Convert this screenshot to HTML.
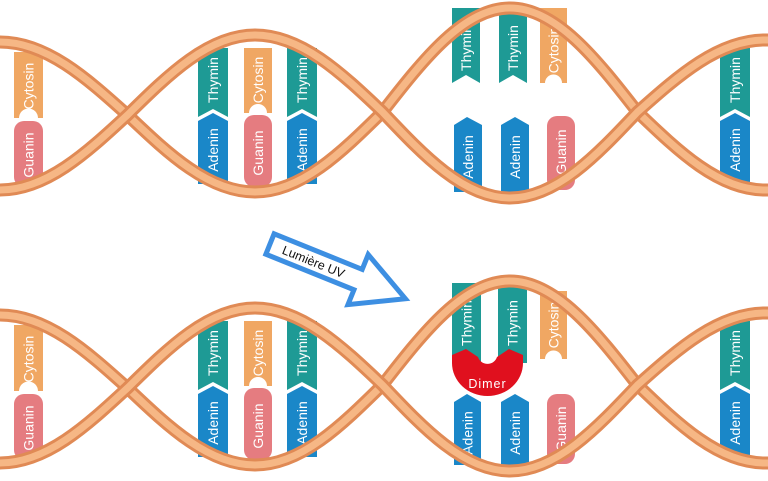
<!DOCTYPE html>
<html><head><meta charset="utf-8"><style>
html,body{margin:0;padding:0;background:#fff;}
svg{display:block;}
text{font-family:"Liberation Sans",sans-serif;}
.b text{fill:#fff;font-size:14px;text-anchor:middle;}
</style></head><body>
<svg width="768" height="481" viewBox="0 0 768 481" xmlns="http://www.w3.org/2000/svg">
<defs>
<path id="s1" d="M-10 42 L0 42 C46.1 42 85.9 77.6 127.5 115 C169.1 154.5 208.9 192 255 192 C301.1 192 340.9 153 382.5 112 C424.1 58.6 463.9 8 510 8 C556.1 8 595.9 58.6 637.5 112 C679.1 152 718.9 190 765 190 L790 190" fill="none"/>
<path id="s2" d="M-10 190 L0 190 C46.1 190 85.9 153.5 127.5 115 C169.1 74 208.9 35 255 35 C301.1 35 340.9 72.5 382.5 112 C424.1 156 463.9 198 510 198 C556.1 198 595.9 156 637.5 112 C679.1 75 718.9 40 765 40 L790 40" fill="none"/>
<g id="strands">
  <use href="#s1" stroke="#e08a55" stroke-width="13"/>
  <use href="#s1" stroke="#f6b785" stroke-width="7"/>
  <use href="#s2" stroke="#e08a55" stroke-width="13"/>
  <use href="#s2" stroke="#f6b785" stroke-width="7"/>
</g>
</defs>

<!-- TOP HELIX -->
<g class="b">
  <path d="M14 52 H43 V118 H38 A9.5 9.5 0 0 0 19 118 H14 Z" fill="#f0a763"/>
  <text transform="translate(28.5,86) rotate(-90)" dy="5">Cytosin</text>
  <rect x="14" y="121" width="29" height="66" rx="10" fill="#e57c80"/>
  <text transform="translate(28.5,155) rotate(-90)" dy="5">Guanin</text>
  <path d="M198 48 H228 V117 L213 109 L198 117 Z" fill="#1e9a95"/>
  <text transform="translate(213,80) rotate(-90)" dy="5">Thymin</text>
  <path d="M198 121 L213 113 L228 121 V184 H198 Z" fill="#1a87c8"/>
  <text transform="translate(213,150) rotate(-90)" dy="5">Adenin</text>
  <path d="M244 48 H272 V113 H267 A9 9 0 0 0 249 113 H244 Z" fill="#f0a763"/>
  <text transform="translate(258,80) rotate(-90)" dy="5">Cytosin</text>
  <rect x="244" y="115" width="28" height="72" rx="10" fill="#e57c80"/>
  <text transform="translate(258,153) rotate(-90)" dy="5">Guanin</text>
  <path d="M287 48 H317 V117 L302 109 L287 117 Z" fill="#1e9a95"/>
  <text transform="translate(302,80) rotate(-90)" dy="5">Thymin</text>
  <path d="M287 121 L302 113 L317 121 V184 H287 Z" fill="#1a87c8"/>
  <text transform="translate(302,150) rotate(-90)" dy="5">Adenin</text>
  <path d="M452 8 H480 V83 L466 75 L452 83 Z" fill="#1e9a95"/>
  <text transform="translate(466,48) rotate(-90)" dy="5">Thymin</text>
  <path d="M499 8 H527 V83 L513 75 L499 83 Z" fill="#1e9a95"/>
  <text transform="translate(513,48) rotate(-90)" dy="5">Thymin</text>
  <path d="M540 8 H567 V83 H562 A8.5 8.5 0 0 0 545 83 H540 Z" fill="#f0a763"/>
  <text transform="translate(553.5,50) rotate(-90)" dy="5">Cytosin</text>
  <path d="M454 125 L467 117 L482 125 V192 H454 Z" fill="#1a87c8"/>
  <text transform="translate(468,157) rotate(-90)" dy="5">Adenin</text>
  <path d="M501 125 L515 117 L529 125 V192 H501 Z" fill="#1a87c8"/>
  <text transform="translate(515,157) rotate(-90)" dy="5">Adenin</text>
  <rect x="547" y="116" width="28" height="74" rx="10" fill="#e57c80"/>
  <text transform="translate(561,152) rotate(-90)" dy="5">Guanin</text>
  <path d="M720 48 H750 V117 L735 109 L720 117 Z" fill="#1e9a95"/>
  <text transform="translate(735,80) rotate(-90)" dy="5">Thymin</text>
  <path d="M720 121 L735 113 L750 121 V184 H720 Z" fill="#1a87c8"/>
  <text transform="translate(735,150) rotate(-90)" dy="5">Adenin</text>
</g>
<use href="#strands"/>

<!-- BOTTOM HELIX -->
<g transform="translate(0,273)">
<g class="b">
  <path d="M14 52 H43 V118 H38 A9.5 9.5 0 0 0 19 118 H14 Z" fill="#f0a763"/>
  <text transform="translate(28.5,86) rotate(-90)" dy="5">Cytosin</text>
  <rect x="14" y="121" width="29" height="66" rx="10" fill="#e57c80"/>
  <text transform="translate(28.5,155) rotate(-90)" dy="5">Guanin</text>
  <path d="M198 48 H228 V117 L213 109 L198 117 Z" fill="#1e9a95"/>
  <text transform="translate(213,80) rotate(-90)" dy="5">Thymin</text>
  <path d="M198 121 L213 113 L228 121 V184 H198 Z" fill="#1a87c8"/>
  <text transform="translate(213,150) rotate(-90)" dy="5">Adenin</text>
  <path d="M244 48 H272 V113 H267 A9 9 0 0 0 249 113 H244 Z" fill="#f0a763"/>
  <text transform="translate(258,80) rotate(-90)" dy="5">Cytosin</text>
  <rect x="244" y="115" width="28" height="72" rx="10" fill="#e57c80"/>
  <text transform="translate(258,153) rotate(-90)" dy="5">Guanin</text>
  <path d="M287 48 H317 V117 L302 109 L287 117 Z" fill="#1e9a95"/>
  <text transform="translate(302,80) rotate(-90)" dy="5">Thymin</text>
  <path d="M287 121 L302 113 L317 121 V184 H287 Z" fill="#1a87c8"/>
  <text transform="translate(302,150) rotate(-90)" dy="5">Adenin</text>
  <path d="M452 10 H481 V90 H452 Z" fill="#1e9a95"/>
  <text transform="translate(466.5,50) rotate(-90)" dy="5">Thymin</text>
  <path d="M498 10 H527 V90 H498 Z" fill="#1e9a95"/>
  <text transform="translate(512.5,50) rotate(-90)" dy="5">Thymin</text>
  <path d="M452 82 L466 76 L478 84 A10 10 0 0 0 497 84 L509 76 L523 82 V90 A35.5 33 0 0 1 452 90 Z" fill="#e0101e"/>
  <text x="487.5" y="115" style="font-size:12.5px;letter-spacing:1px">Dimer</text>
  <path d="M540 18 H567 V86 H562 A8.5 8.5 0 0 0 545 86 H540 Z" fill="#f0a763"/>
  <text transform="translate(553.5,52) rotate(-90)" dy="5">Cytosin</text>
  <path d="M454 129 L467 121 L481 129 V192 H454 Z" fill="#1a87c8"/>
  <text transform="translate(467.5,160) rotate(-90)" dy="5">Adenin</text>
  <path d="M501 129 L515 121 L529 129 V192 H501 Z" fill="#1a87c8"/>
  <text transform="translate(515,160) rotate(-90)" dy="5">Adenin</text>
  <rect x="547" y="121" width="28" height="70" rx="10" fill="#e57c80"/>
  <text transform="translate(561,156) rotate(-90)" dy="5">Guanin</text>
  <path d="M720 48 H750 V117 L735 109 L720 117 Z" fill="#1e9a95"/>
  <text transform="translate(735,80) rotate(-90)" dy="5">Thymin</text>
  <path d="M720 121 L735 113 L750 121 V184 H720 Z" fill="#1a87c8"/>
  <text transform="translate(735,150) rotate(-90)" dy="5">Adenin</text>
</g>
<use href="#strands"/>
</g>

<!-- ARROW -->
<g transform="translate(270,244) rotate(22)">
  <path d="M0 -11 H95 V-27 L146 0 L95 27 V11 H0 Z" fill="#fff" stroke="#3d8fe2" stroke-width="5" stroke-linejoin="miter"/>
  <text x="47" y="4.5" text-anchor="middle" style="font-size:12.5px;fill:#111">Lumière UV</text>
</g>
</svg>
</body></html>
